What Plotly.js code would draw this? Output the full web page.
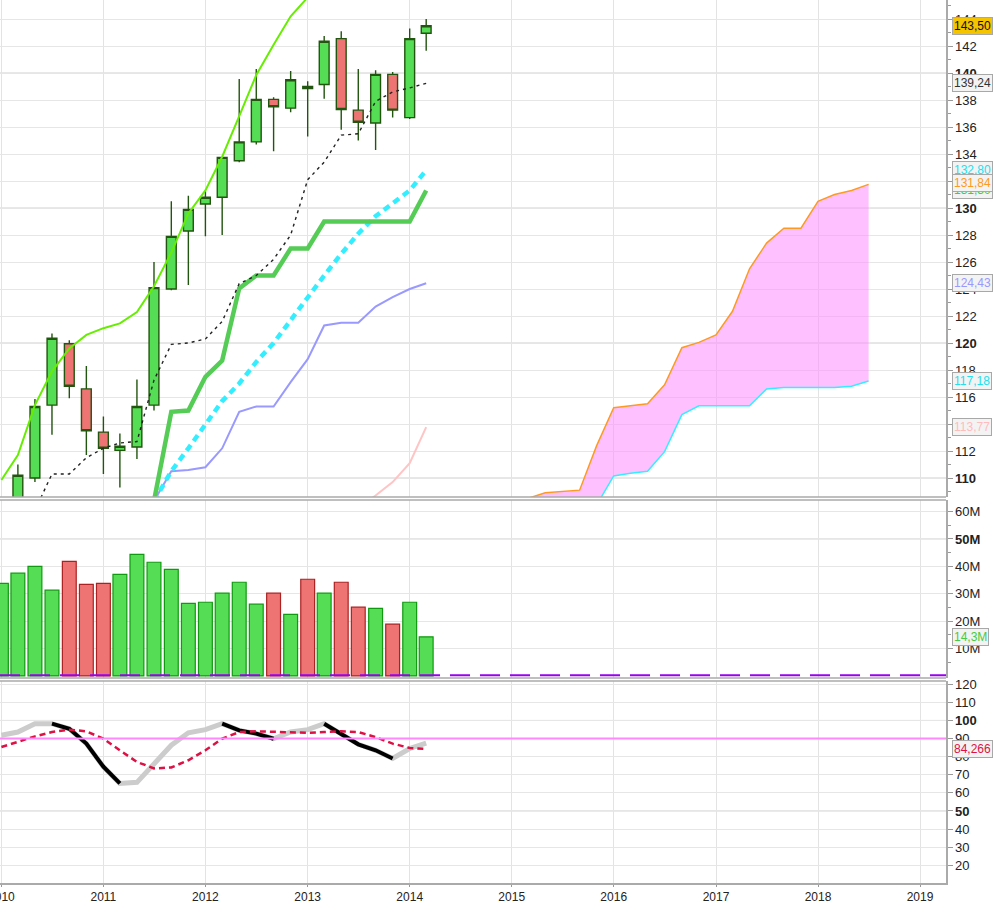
<!DOCTYPE html>
<html>
<head>
<meta charset="utf-8">
<script src="https://cdn.plot.ly/plotly-3.0.1.min.js"></script>
<style>
  html, body { margin: 0; padding: 0; background: #fff; }
  #chart { width: 1001px; height: 902px; }
</style>
</head>
<body>
<div id="chart"></div>
<script>
// two-month candles, Jan 2010 .. Mar 2014
const periods = ['2010-01-01','2010-03-01','2010-05-01','2010-07-01','2010-09-01','2010-11-01',
  '2011-01-01','2011-03-01','2011-05-01','2011-07-01','2011-09-01','2011-11-01',
  '2012-01-01','2012-03-01','2012-05-01','2012-07-01','2012-09-01','2012-11-01',
  '2013-01-01','2013-03-01','2013-05-01','2013-07-01','2013-09-01','2013-11-01',
  '2014-01-01','2014-03-01'];
const openP  = [104.5,108.0,110.0,115.4,119.95,116.6,113.4,112.05,112.3,115.4,124.0,128.3,130.3,130.8,133.5,134.9,138.05,137.4,138.85,139.15,142.55,137.25,136.3,139.9,136.7,142.95];
const highP  = [108.4,111.0,115.85,120.7,120.2,118.3,114.55,113.3,117.3,126.0,130.5,130.9,131.3,133.8,139.55,140.3,138.2,140.15,139.4,142.75,143.1,140.3,140.2,140.07,143.3,144.0];
const lowP   = [103.8,107.6,109.7,113.2,115.9,111.7,110.3,109.3,111.4,115.0,123.9,124.3,127.9,128.0,133.4,134.7,134.2,137.1,135.3,138.1,135.8,135.0,134.3,136.7,136.6,141.65];
const closeP = [108.0,110.2,115.3,120.35,116.8,113.5,112.2,112.35,115.3,124.1,127.9,129.9,130.8,133.75,134.9,138.05,137.5,139.5,139.0,142.35,137.3,136.35,139.9,137.25,142.55,143.5];

// volume in millions, and whether the bar is drawn as an up bar
const volume = [33.8,37.5,40.0,31.3,41.8,33.4,33.8,37.1,44.4,41.5,38.9,26.5,26.9,30.2,34.2,26.2,30.2,22.5,35.3,30.2,34.2,25.1,24.7,18.9,26.9,14.3];
const volUp  = [1,1,1,1,0,0,0,1,1,1,1,1,1,1,1,1,0,1,0,1,0,0,1,0,1,1];

// overlay lines on the price panel
const limeLine  = [109.85,111.7,115.4,117.9,119.6,120.6,121.1,121.45,122.3,124.2,126.7,129.6,131.3,133.8,136.8,139.85,142.1,144.2,145.6,null,null,null,null,null,null,null];
const blackDash = [null,null,107.6,110.3,110.3,111.5,112.2,112.6,112.7,117.25,119.9,120.0,120.3,121.6,124.4,125.0,126.2,128.0,132.1,133.4,135.4,135.5,137.9,138.6,138.9,139.24];
const greenLine = [null,null,null,null,null,null,null,null,null,108.3,114.9,115.0,117.5,118.7,124.05,125.0,125.0,127.0,127.0,129.0,129.0,129.0,129.0,129.0,129.0,131.3];
const cyanDash  = [null,null,null,null,null,null,null,null,null,108.3,110.5,112.2,114.0,115.7,117.0,118.6,120.0,121.7,123.4,125.0,126.6,128.1,129.4,130.4,131.3,132.8];
const blueLine  = [null,null,null,null,null,null,null,null,null,108.3,110.5,110.6,110.8,112.2,114.9,115.3,115.3,117.1,118.8,121.3,121.5,121.5,122.7,123.4,124.0,124.43];
const pinkLine  = [null,null,null,null,null,null,null,null,null,null,null,null,null,null,null,null,null,null,null,null,null,107.8,108.7,109.7,111.1,113.77];

// projected cloud
const cloudDates = ['2015-01-01','2015-03-01','2015-05-01','2015-07-01','2015-09-01','2015-11-01',
  '2016-01-01','2016-03-01','2016-05-01','2016-07-01','2016-09-01','2016-11-01',
  '2017-01-01','2017-03-01','2017-05-01','2017-07-01','2017-09-01','2017-11-01',
  '2018-01-01','2018-03-01','2018-05-01','2018-07-01'];
const spanA = [107.8,108.5,108.9,109.0,109.1,112.4,115.2,115.35,115.5,116.9,119.65,120.05,120.6,122.35,125.5,127.4,128.5,128.5,130.5,131.0,131.3,131.75];
const spanB = [105.5,106.0,106.5,107.0,107.5,108.0,110.15,110.35,110.5,111.95,114.7,115.35,115.35,115.35,115.35,116.6,116.7,116.7,116.7,116.7,116.8,117.18];

// oscillator
const oscK = [91.8,93.6,98.2,98.2,95.4,87.2,74.4,65.2,65.8,76.2,86.3,93.2,94.9,98.2,94.5,92.7,89.9,93.6,94.9,98.2,92.7,86.8,83.5,79.0,84.5,87.5];
const oscD = [85.3,88.1,91.2,93.6,94.9,94.0,89.9,83.5,77.1,73.5,74.0,78.0,83.5,89.9,93.6,94.0,93.6,93.6,93.2,93.6,94.0,93.6,90.8,87.2,84.8,84.266];

const priceTicks = [110,112,114,116,118,120,122,124,126,128,130,132,134,136,138,140,142,144];
const volTicks = [10,20,30,40,50,60];
const oscTicks = [20,30,40,50,60,70,80,90,100,110,120];

const FONT = 'Liberation Sans, Arial, sans-serif';
const UP = '#55dd55', DOWN = '#ee7474';

// falling stretches of the oscillator are drawn black over the grey line
const downX = [], downY = [];
let run = false;
for (let i = 0; i < oscK.length - 1; i++) {
  if (oscK[i + 1] < oscK[i]) {
    if (!run) { downX.push(periods[i]); downY.push(oscK[i]); }
    downX.push(periods[i + 1]); downY.push(oscK[i + 1]);
    run = true;
  } else if (run) {
    downX.push(null); downY.push(null);
    run = false;
  }
}

function line(y, color, width, dash, yaxis) {
  return { type: 'scatter', mode: 'lines', x: periods, y: y, yaxis: yaxis || 'y',
    line: { color: color, width: width, dash: dash || 'solid' }, hoverinfo: 'skip' };
}

const traces = [
  { type: 'scatter', mode: 'lines', x: cloudDates, y: spanB, line: { color: '#33eeff', width: 1.5 }, hoverinfo: 'skip' },
  { type: 'scatter', mode: 'lines', x: cloudDates, y: spanA, fill: 'tonexty',
    fillcolor: 'rgba(255,140,255,0.55)', line: { color: '#ff9922', width: 1.5 }, hoverinfo: 'skip' },
  { type: 'candlestick', x: periods, open: openP, high: highP, low: lowP, close: closeP,
    increasing: { line: { color: '#22550f', width: 1.4 }, fillcolor: UP },
    decreasing: { line: { color: '#22550f', width: 1.4 }, fillcolor: DOWN },
    hoverinfo: 'skip' },
  line(blueLine, '#9999ff', 2),
  line(pinkLine, '#ffc4c4', 2),
  line(cyanDash, '#33eeff', 4.5, '7px,5px'),
  line(greenLine, '#55cc55', 4.5),
  line(blackDash, '#222222', 1.4, '3px,4px'),
  line(limeLine, '#66ee00', 2),
  { type: 'bar', x: periods, y: volume.map(v => v * 1e6), yaxis: 'y2',
    marker: { color: volUp.map(u => u ? UP : DOWN),
      line: { color: volUp.map(u => u ? '#119911' : '#aa2222'), width: 1.2 } },
    hoverinfo: 'skip' },
  line(oscK, '#cccccc', 5, 'solid', 'y3'),
  { type: 'scatter', mode: 'lines', x: downX, y: downY, yaxis: 'y3', connectgaps: false,
    line: { color: '#000000', width: 4 }, hoverinfo: 'skip' },
  line(oscD, '#dd1144', 2.5, '6px,4px', 'y3')
];

const gridMinor = '#e6e6e6', gridMajor = '#cfcfcf';
const shapes = [];
[110, 120, 130, 140].forEach(v => shapes.push({ type: 'line', xref: 'paper', x0: 0, x1: 1, yref: 'y', y0: v, y1: v, layer: 'below', line: { color: gridMajor, width: 1 } }));
shapes.push({ type: 'line', xref: 'paper', x0: 0, x1: 1, yref: 'y2', y0: 50e6, y1: 50e6, layer: 'below', line: { color: gridMajor, width: 1 } });
[50, 100].forEach(v => shapes.push({ type: 'line', xref: 'paper', x0: 0, x1: 1, yref: 'y3', y0: v, y1: v, layer: 'below', line: { color: gridMajor, width: 1 } }));
shapes.push({ type: 'line', xref: 'paper', x0: 0, x1: 1, yref: 'y2', y0: 0.25e6, y1: 0.25e6, line: { color: '#9900ee', width: 2, dash: '20px,10px' } });
shapes.push({ type: 'line', xref: 'paper', x0: 0, x1: 1, yref: 'y3', y0: 90, y1: 90, line: { color: '#ff88ff', width: 2 } });
[0.4371, 0.4337, 0.2322, 0.2288].forEach(p => shapes.push({ type: 'line', xref: 'paper', x0: 0, x1: 1, yref: 'paper', y0: p, y1: p, line: { color: '#aaaaaa', width: 1.5 } }));

function tag(yref, y, text, color, bg) {
  return { xref: 'paper', x: 1.006, xanchor: 'left', yref: yref, y: y, yanchor: 'middle',
    text: text, showarrow: false, font: { family: FONT, size: 12, color: color },
    bgcolor: bg || '#f3f3f3', bordercolor: '#a8a8a8', borderwidth: 1, borderpad: 1 };
}
const annotations = [
  tag('y', 143.5, '143,50', '#111111', '#f5c400'),
  tag('y', 139.24, '139,24', '#333333'),
  tag('y', 132.8, '132,80', '#22e0ee'),
  tag('y', 131.3, '131,30', '#44cc44'),
  tag('y', 131.84, '131,84', '#ff9922'),
  tag('y', 124.43, '124,43', '#9999ff'),
  tag('y', 117.18, '117,18', '#22e0ee'),
  tag('y', 113.77, '113,77', '#ffbcbc'),
  tag('y2', 14.3e6, '14,3M', '#44cc44'),
  tag('y3', 84.266, '84,266', '#dd1144')
];

function yAxis(domain, range, vals, text, minorVals) {
  const ax = { domain: domain, range: range, side: 'right', anchor: 'x', fixedrange: true,
    tickmode: 'array', tickvals: vals, ticktext: text,
    ticks: 'outside', ticklen: 5, tickcolor: '#999', showline: true, linecolor: '#aaaaaa', linewidth: 1.5,
    showgrid: true, gridcolor: gridMinor, zeroline: false,
    tickfont: { family: FONT, size: 13, color: '#222' } };
  if (minorVals) ax.minor = { tickmode: 'array', tickvals: minorVals, ticks: 'outside', ticklen: 3, tickcolor: '#999', showgrid: false };
  return ax;
}

const layout = {
  width: 1001, height: 902,
  margin: { l: 0, r: 55, t: 0, b: 19 },
  paper_bgcolor: '#ffffff', plot_bgcolor: '#ffffff',
  showlegend: false, boxgap: 0.15, bargap: 0.16,
  font: { family: FONT, color: '#222' },
  xaxis: { type: 'date', range: ['2009-12-27', '2019-04-04'], anchor: 'y3',
    rangeslider: { visible: false }, fixedrange: true,
    tickmode: 'linear', tick0: '2010-01-01', dtick: 'M12', tickformat: '%Y',
    ticks: 'outside', ticklen: 2, tickcolor: '#999', ticklabeloverflow: 'allow',
    showline: true, linecolor: '#aaaaaa', linewidth: 1.5,
    showgrid: true, gridcolor: '#e3e3e3',
    tickfont: { family: FONT, size: 12, color: '#222' } },
  yaxis: yAxis([0.4371, 1], [108.59, 145.41], priceTicks,
    priceTicks.map(v => v % 10 === 0 ? '<b>' + v + '</b>' : String(v)),
    priceTicks.map(v => v + 1).concat([109])),
  yaxis2: yAxis([0.2322, 0.4337], [-0.73e6, 64.2e6], volTicks.map(v => v * 1e6),
    volTicks.map(v => v === 50 ? '<b>50M</b>' : v + 'M'),
    [5, 15, 25, 35, 45, 55].map(v => v * 1e6)),
  yaxis3: yAxis([0, 0.2288], [10.2, 121.8], oscTicks,
    oscTicks.map(v => (v === 50 || v === 100) ? '<b>' + v + '</b>' : String(v))),
  shapes: shapes,
  annotations: annotations
};

Plotly.newPlot('chart', traces, layout, { displayModeBar: false, staticPlot: true });
</script>
</body>
</html>
